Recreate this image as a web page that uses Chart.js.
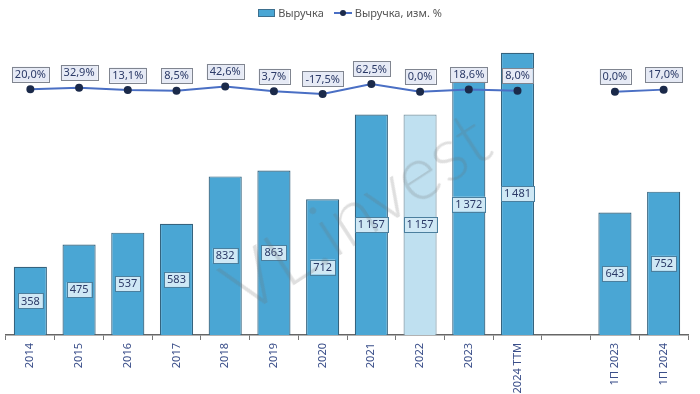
<!DOCTYPE html>
<html>
<head>
<meta charset="utf-8">
<script src="https://cdn.jsdelivr.net/npm/chart.js@4/dist/chart.umd.min.js"></script>
<style>
  html, body { margin: 0; padding: 0; background: #fff; }
  #wrap { position: relative; width: 700px; height: 394px; overflow: hidden; }
  #legend {
    position: absolute; top: 5px; left: 0; width: 700px;
    display: flex; justify-content: center; align-items: center;
    font: 11px "Noto Sans", sans-serif; color: #555;
  }
  .item { display: flex; align-items: center; margin: 0 5px; }
  .box { width: 15px; height: 6px; background: #4aa6d4; border: 1px solid #3d6f8e; margin-right: 3px; }
  .ln { position: relative; width: 18px; height: 2px; background: #4a6fc4; margin-right: 3px; }
  .ln::after { content: ""; position: absolute; left: 6px; top: -2px; width: 6px; height: 6px; border-radius: 50%; background: #1b2a4a; }
  #wm {
    position: absolute; left: 205px; top: 165px; pointer-events: none;
    font: 300 76px Lato, "Noto Sans", sans-serif; color: rgba(110,110,110,0.22);
    transform: rotate(-33deg); transform-origin: center; white-space: nowrap;
  }
</style>
</head>
<body>
<div id="wrap">
  <canvas id="chart" width="700" height="394"></canvas>
  <div id="legend">
    <div class="item"><span class="box"></span>Выручка</div>
    <div class="item"><span class="ln"></span>Выручка, изм. %</div>
  </div>
  <div id="wm">VL.invest</div>
</div>
<script>
// --- data ---
const labels = ["2014", "2015", "2016", "2017", "2018", "2019", "2020", "2021", "2022", "2023", "2024 TTM", "", "1П 2023", "1П 2024"];
const revenue = [358, 475, 537, 583, 832, 863, 712, 1157, 1157, 1372, 1481, null, 643, 752];
const revenueChange = [20.0, 32.9, 13.1, 8.5, 42.6, 3.7, -17.5, 62.5, 0.0, 18.6, 8.0, null, 0.0, 17.0];

const barColors = labels.map(l => l === "2022" ? "#bfe0f0" : "#4aa6d4");
const barBorders = labels.map(l => l === "2022" ? "#7f9aa8" : "#35637e");

function fmtNum(v) {
    return String(v).replace(/\B(?=(\d{3})+(?!\d))/g, "\u202F");
}
function fmtPct(v) {
    return v.toFixed(1).replace(".", ",") + "%";
}

// draws the little boxed labels on bars and points
const boxLabels = {
    id: "boxLabels",
    afterDatasetsDraw(chart) {
        const ctx = chart.ctx;
        ctx.save();
        ctx.font = '11px "Noto Sans", sans-serif';
        ctx.textAlign = "center";
        ctx.textBaseline = "middle";

        const drawBox = (text, x, y, fill, stroke) => {
            const w = ctx.measureText(text).width + 6;
            const h = 15;
            ctx.fillStyle = fill;
            ctx.fillRect(x - w / 2, y - h / 2, w, h);
            ctx.strokeStyle = stroke;
            ctx.lineWidth = 1;
            ctx.strokeRect(Math.round(x - w / 2) + 0.5, Math.round(y - h / 2) + 0.5, Math.round(w), h);
            ctx.fillStyle = "#2b3a67";
            ctx.fillText(text, x, y + 0.5);
        };

        chart.getDatasetMeta(1).data.forEach((bar, i) => {
            if (revenue[i] == null) return;
            const mid = (bar.y + bar.base) / 2;
            drawBox(fmtNum(revenue[i]), bar.x, mid, "#cfe8f5", "#4b7f9e");
        });
        chart.getDatasetMeta(0).data.forEach((pt, i) => {
            if (revenueChange[i] == null) return;
            drawBox(fmtPct(revenueChange[i]), pt.x, pt.y - 15, "#e6eaf5", "#808590");
        });
        ctx.restore();
    }
};

new Chart(document.getElementById("chart"), {
    data: {
        labels: labels,
        datasets: [
            {
                type: "line",
                label: "Выручка, изм. %",
                data: revenueChange,
                yAxisID: "y1",
                borderColor: "#4a6fc4",
                borderWidth: 2,
                pointBackgroundColor: "#1b2a4a",
                pointBorderColor: "#1b2a4a",
                pointRadius: 3,
                spanGaps: false,
                tension: 0,
                order: 0
            },
            {
                type: "bar",
                label: "Выручка",
                data: revenue,
                yAxisID: "y",
                backgroundColor: barColors,
                borderColor: barBorders,
                borderWidth: 1.2,
                barPercentage: 0.68,
                categoryPercentage: 1,
                order: 1
            }
        ]
    },
    options: {
        responsive: false,
        animation: false,
        layout: { padding: { top: 30, left: 5, right: 12, bottom: 0 } },
        plugins: {
            legend: { display: false },
            tooltip: { enabled: false }
        },
        scales: {
            x: {
                offset: true,
                afterFit(scale) { scale.height = 59; },
                grid: {
                    offset: true,
                    drawOnChartArea: false,
                    drawTicks: true,
                    tickLength: 5,
                    color: "#777"
                },
                border: { display: true, color: "#666", width: 1.5 },
                ticks: {
                    minRotation: 90,
                    maxRotation: 90,
                    padding: 3,
                    color: "#3b4f8a",
                    font: { family: "Noto Sans", size: 11 }
                }
            },
            y: { display: false, min: 0, max: 1600 },
            y1: { display: false, min: -1946, max: 494 }
        }
    },
    plugins: [boxLabels]
});
</script>
</body>
</html>
